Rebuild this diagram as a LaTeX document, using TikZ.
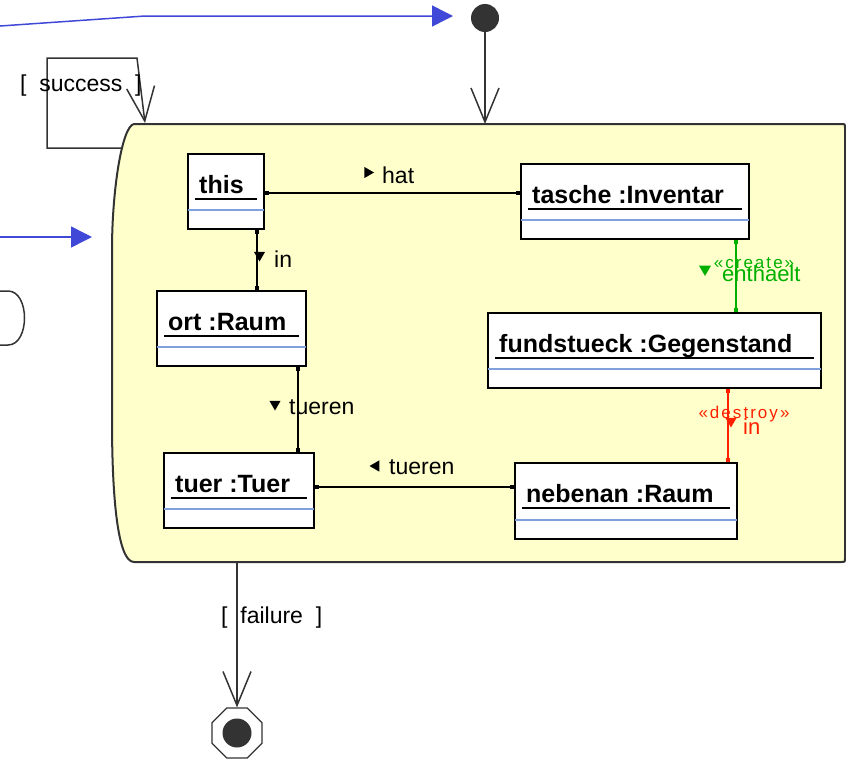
\documentclass[tikz,border=0pt]{standalone}
\usepackage{fontspec}
\setmainfont{Liberation Sans}
\usetikzlibrary{arrows.meta,shapes.geometric}

\definecolor{rahmengelb}{RGB}{255,255,204}
\definecolor{rahmengrau}{RGB}{51,51,51}
\definecolor{trennblau}{RGB}{128,160,220}
\definecolor{steuerblau}{RGB}{64,72,216}
\definecolor{creategruen}{RGB}{0,176,0}
\definecolor{destroyrot}{RGB}{255,32,0}

\begin{document}
\begin{tikzpicture}[x=1pt,y=-1pt,
    objekt/.style={draw,line width=2pt,fill=white,inner sep=0pt,anchor=north west},
    objname/.style={font=\fontsize{25}{30}\selectfont\bfseries,inner sep=0pt,anchor=base west},
    unterstrich/.style={line width=1.5pt},
    trennlinie/.style={trennblau,line width=2pt},
    link/.style={line width=1.5pt,{Square[length=4pt,width=4pt]}-{Square[length=4pt,width=4pt]}},
    linktext/.style={font=\fontsize{23}{28}\selectfont,inner sep=0pt,anchor=west},
    richtung/.style={regular polygon,regular polygon sides=3,fill,inner sep=0pt,minimum size=13pt},
    uebergang/.style={rahmengrau,line width=1.5pt,-{Straight Barb[length=34pt,width=28pt]}},
    waechter/.style={font=\fontsize{23}{28}\selectfont,inner sep=0pt,anchor=west},
    steuerfluss/.style={steuerblau,line width=1.5pt,-{Triangle[length=21pt,width=21pt]}},
    stereotyp/.style={font=\fontsize{17}{20}\selectfont\addfontfeatures{LetterSpace=12},inner sep=0pt},
  ]
  \useasboundingbox (0,0) rectangle (846,758);

  % story pattern activity
  \draw[fill=rahmengelb,draw=rahmengrau,line width=2pt]
    (134,124) -- (841,124) .. controls (845,124) .. (845,128) -- (845,558)
    .. controls (845,562) .. (841,562) -- (134,562)
    .. controls (118,562) and (112,500) .. (112,420) -- (112,250)
    .. controls (112,190) and (122,126) .. (134,124) -- cycle;

  % neighbouring states, cut off at the left
  \draw[rahmengrau,line width=1.5pt] (0,291) -- (8,291) .. controls (30,291) and (30,345) .. (8,345) -- (0,345);

  % control flow coming in from outside
  \coordinate (zufluss1) at (0,26);
  \coordinate (zufluss2) at (0,237);
  \draw[steuerfluss] (zufluss1) -- (145,16) -- (453,16);
  \draw[steuerfluss] (zufluss2) -- (92,237);

  % start and stop
  \node[circle,fill=rahmengrau,minimum size=28pt,inner sep=0pt] (start) at (485,18) {};
  \coordinate (eintritt) at (485,124);
  \draw[uebergang] (start) -- (eintritt);

  \node[regular polygon,regular polygon sides=8,draw=rahmengrau,line width=1.2pt,minimum size=54pt,inner sep=0pt] (ende) at (237,733) {};
  \node[circle,fill=rahmengrau,minimum size=29pt,inner sep=0pt] (endpunkt) at (ende) {};
  \coordinate (austritt) at (237,562);
  \draw[uebergang] (austritt) -- (ende);
  \node[waechter] (failure) at (221,618) {[\ \ failure\ \ ]};

  % success loop
  \coordinate (schleife) at (121,148);
  \coordinate (rueckkehr) at (145,123);
  \draw[uebergang] (schleife) -- (47,148) -- (47,58) -- (137,58) -- (rueckkehr);
  \node[waechter] (success) at (20,86) {[\ \ success\ \ ]};

  % objects
  \node[objekt,minimum width=76pt,minimum height=75pt] (this) at (187,153) {};
  \node[objname] (thisname) at ([shift={(12,40)}]this.north west) {this};
  \draw[unterstrich] ([shift={(8,46)}]this.north west) -- ([shift={(-8,46)}]this.north east);
  \draw[trennlinie] ([shift={(1,57)}]this.north west) -- ([shift={(-1,57)}]this.north east);

  \node[objekt,minimum width=228pt,minimum height=75pt] (tasche) at (520,163) {};
  \node[objname] (taschename) at ([shift={(12,40)}]tasche.north west) {tasche :Inventar};
  \draw[unterstrich] ([shift={(8,46)}]tasche.north west) -- ([shift={(-8,46)}]tasche.north east);
  \draw[trennlinie] ([shift={(1,57)}]tasche.north west) -- ([shift={(-1,57)}]tasche.north east);

  \node[objekt,minimum width=149pt,minimum height=75pt] (ort) at (156,290) {};
  \node[objname] (ortname) at ([shift={(12,40)}]ort.north west) {ort :Raum};
  \draw[unterstrich] ([shift={(8,46)}]ort.north west) -- ([shift={(-8,46)}]ort.north east);
  \draw[trennlinie] ([shift={(1,57)}]ort.north west) -- ([shift={(-1,57)}]ort.north east);

  \node[objekt,minimum width=333pt,minimum height=75pt] (fundstueck) at (487,312) {};
  \node[objname] (fundstueckname) at ([shift={(12,40)}]fundstueck.north west) {fundstueck :Gegenstand};
  \draw[unterstrich] ([shift={(8,46)}]fundstueck.north west) -- ([shift={(-8,46)}]fundstueck.north east);
  \draw[trennlinie] ([shift={(1,57)}]fundstueck.north west) -- ([shift={(-1,57)}]fundstueck.north east);

  \node[objekt,minimum width=150pt,minimum height=75pt] (tuer) at (163,452) {};
  \node[objname] (tuername) at ([shift={(12,40)}]tuer.north west) {tuer :Tuer};
  \draw[unterstrich] ([shift={(8,46)}]tuer.north west) -- ([shift={(-8,46)}]tuer.north east);
  \draw[trennlinie] ([shift={(1,57)}]tuer.north west) -- ([shift={(-1,57)}]tuer.north east);

  \node[objekt,minimum width=222pt,minimum height=76pt] (nebenan) at (514,462) {};
  \node[objname] (nebenanname) at ([shift={(12,40)}]nebenan.north west) {nebenan :Raum};
  \draw[unterstrich] ([shift={(8,46)}]nebenan.north west) -- ([shift={(-8,46)}]nebenan.north east);
  \draw[trennlinie] ([shift={(1,58)}]nebenan.north west) -- ([shift={(-1,58)}]nebenan.north east);

  % links
  \draw[link] ([shift={(0,1.5)}]this.east) coordinate (hat1) -- (hat1 -| tasche.west);
  \node[richtung,shape border rotate=-90] (hatpfeil) at (367.5,172.5) {};
  \node[linktext] (hat) at (382,175) {hat};

  \draw[link] ([shift={(31,0)}]this.south) coordinate (in1) -- (in1 |- ort.north);
  \node[richtung,shape border rotate=180] (inpfeil) at (259.5,255) {};
  \node[linktext] (in) at (274,259) {in};

  \draw[link] ([shift={(66.5,0)}]ort.south) coordinate (tueren1) -- (tueren1 |- tuer.north);
  \node[richtung,shape border rotate=180] (tuerenpfeil1) at (275,404) {};
  \node[linktext] (tueren1text) at (289,407) {tueren};

  \draw[link] ([shift={(0,-3.5)}]tuer.east) coordinate (tueren2) -- (tueren2 -| nebenan.west);
  \node[richtung,shape border rotate=90] (tuerenpfeil2) at (376,466) {};
  \node[linktext] (tueren2text) at (389,467) {tueren};

  \draw[link,creategruen] ([shift={(101,0)}]tasche.south) coordinate (enthaelt1) -- (enthaelt1 |- fundstueck.north);
  \node[richtung,creategruen,minimum size=14pt,shape border rotate=180] (enthaeltpfeil) at (705,269) {};
  \node[stereotyp,creategruen] (create) at (754,263) {«create»};
  \node[linktext,creategruen,font=\fontsize{22}{26}\selectfont] (enthaelt) at (722,274) {enthaelt};

  \draw[link,destroyrot] ([shift={(73.5,0)}]fundstueck.south) coordinate (in2) -- (in2 |- nebenan.north);
  \node[stereotyp,destroyrot] (destroy) at (744,414) {«destroy»};
  \node[richtung,destroyrot,shape border rotate=180] (in2pfeil) at (731,421) {};
  \node[linktext,destroyrot,font=\fontsize{22}{26}\selectfont] (in2text) at (743,427) {in};
\end{tikzpicture}
\end{document}
